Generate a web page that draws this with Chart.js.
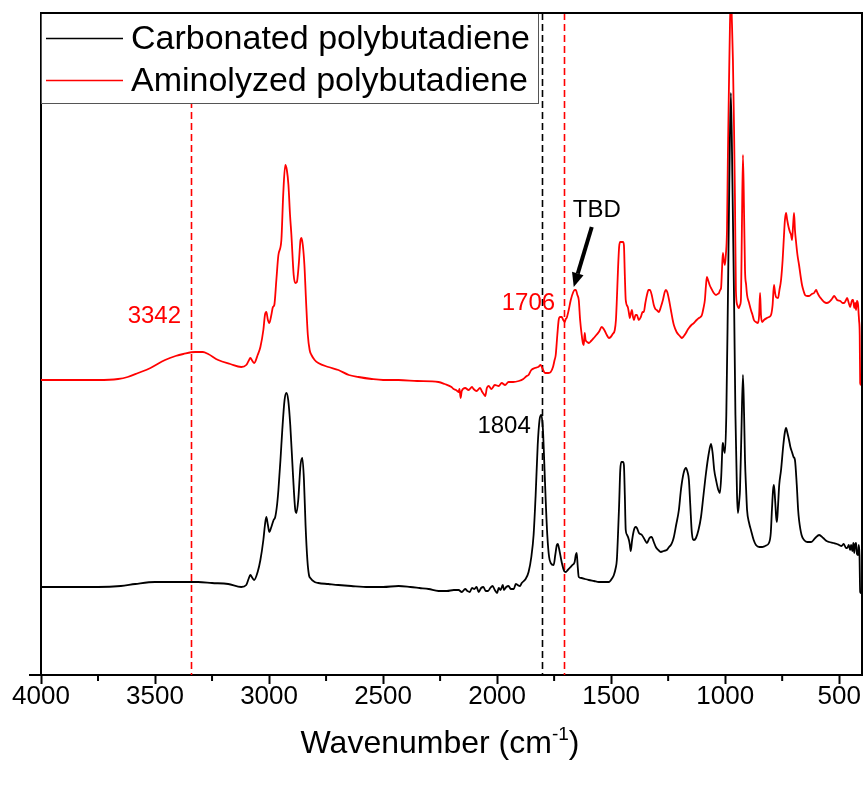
<!DOCTYPE html>
<html><head><meta charset="utf-8">
<script src="https://cdn.jsdelivr.net/npm/chart.js@4.4.0/dist/chart.umd.min.js"></script>
<style>html,body{margin:0;padding:0;background:#fff;}#wrap{width:866px;height:785px;}</style>
</head><body><div id="wrap"><canvas id="c" width="866" height="785"></canvas></div>
<script>
const seriesNames = ['Carbonated polybutadiene', 'Aminolyzed polybutadiene'];
const seriesColors = ['#000000', '#ff0000'];

const carbWavenumber = [4000,3900,3750,3650,3587,3500,3442,3380,3311,3250,3179,3122,3100,3090,3082,3073,3065,3050,3038,3025,3018,3012,3005,2999,2990,2980,2973,2965,2959,2950,2942,2932,2924,2916,2907,2895,2885,2880,2872,2862,2854,2847,2840,2832,2825,2819,2800,2784,2740,2696,2640,2564,2500,2432,2380,2340,2300,2257,2220,2190,2169,2155,2140,2130,2120,2110,2100,2090,2081,2070,2060,2050,2040,2030,2020,2010,2000,1993,1985,1975,1970,1960,1950,1940,1927,1918,1910,1900,1892,1875,1862,1850,1840,1831,1822,1814,1806,1799,1792,1787,1780,1772,1765,1752,1745,1738,1734,1728,1717,1706,1699,1690,1682,1670,1660,1655,1651,1647,1642,1630,1615,1598,1575,1554,1530,1510,1495,1488,1480,1475,1470,1465,1460,1455,1448,1444,1440,1436,1430,1422,1418,1414,1408,1400,1393,1387,1378,1365,1352,1343,1332,1322,1313,1304,1293,1282,1270,1256,1246,1238,1230,1225,1215,1203,1195,1190,1181,1172,1165,1159,1153,1146,1137,1128,1117,1106,1095,1084,1073,1062,1055,1048,1040,1030,1023,1017,1012,1010,1006,1001,995,988,982,975,968,961,955,948,944,938,935,929,922,917,913,908,904,895,887,875,865,850,838,825,808,800,795,790,786,781,776,773,768,763,755,745,738,733,727,720,714,707,700,694,686,680,676,665,654,640,623,605,588,570,555,544,525,510,500,490,480,470,465,458,452,448,442,438,434,430,426,422,417,414,411,408,404];
const carbAbsorbance = [88,88,88,89,91,93,93,93,93,92,91,88,90,96,100,97,95,103,115,135,150,158,150,143,148,155,158,170,185,215,245,275,282,275,250,200,165,162,175,210,217,195,150,115,100,97,93,92,91,90,89,88,88,89,88,87,86,84,84,85,85,83,86,84,83,87,86,88,83,87,88,84,84,87,89,85,82,87,85,90,85,88,89,86,86,91,90,89,92,96,103,118,140,180,230,255,260,245,205,175,140,118,112,110,120,130,131,126,113,104,103,105,107,110,113,120,122,110,98,97,96,95,94,93,93,93,97,100,107,115,140,170,205,213,213,210,180,145,140,135,130,124,135,145,148,147,142,140,135,132,137,138,133,128,125,123,124,125,128,130,134,138,150,165,183,192,203,207,203,195,170,142,135,137,145,158,180,202,220,231,222,205,195,185,182,200,228,232,226,222,260,375,490,582,490,375,260,180,162,175,185,240,300,260,215,185,165,152,145,135,130,128,128,129,132,142,165,185,190,175,157,153,170,190,205,230,243,247,242,235,228,223,218,215,190,165,155,140,135,133,133,137,140,137,134,133,132,131,130,129,131,127,127,130,125,130,124,132,122,131,132,121,120,130,120,83,82];

const aminoWavenumber = [4000,3900,3750,3662,3620,3574,3520,3456,3410,3376,3324,3290,3267,3223,3170,3122,3100,3090,3082,3073,3065,3050,3038,3025,3018,3012,3005,2999,2990,2983,2977,2968,2959,2946,2938,2929,2922,2915,2908,2902,2892,2885,2878,2870,2862,2858,2852,2845,2838,2830,2822,2814,2800,2784,2740,2696,2650,2608,2550,2500,2432,2350,2257,2230,2200,2191,2180,2169,2165,2160,2155,2140,2125,2110,2103,2090,2075,2065,2059,2052,2045,2037,2025,2010,1993,1980,1965,1950,1930,1905,1885,1870,1862,1850,1835,1820,1809,1800,1790,1775,1765,1755,1748,1743,1736,1730,1724,1717,1710,1704,1699,1695,1686,1677,1666,1660,1655,1648,1642,1636,1629,1624,1620,1616,1612,1605,1598,1588,1576,1565,1554,1541,1530,1519,1510,1502,1493,1484,1479,1475,1470,1465,1460,1448,1444,1440,1436,1427,1422,1418,1413,1409,1404,1400,1393,1387,1379,1370,1362,1357,1350,1343,1336,1330,1322,1313,1306,1300,1291,1282,1273,1265,1260,1254,1246,1238,1230,1225,1213,1203,1195,1190,1181,1172,1165,1159,1148,1137,1125,1115,1108,1102,1095,1089,1084,1080,1075,1068,1062,1050,1040,1033,1027,1022,1018,1014,1010,1006,1001,997,992,988,983,979,975,970,966,961,957,953,947,940,935,931,927,922,917,913,908,904,895,887,880,874,865,856,851,847,843,838,830,817,808,799,792,786,781,777,768,762,755,748,742,738,733,728,722,716,711,707,702,698,694,690,683,676,668,663,656,650,640,632,620,610,605,601,595,588,578,566,555,544,532,522,515,509,495,485,478,470,465,458,452,447,443,439,434,430,426,422,417,415,413,410,408,404];
const aminoAbsorbance = [295,295,295,296,298,302,307,315,319,321,323,323,321,315,311,308,310,314,317,314,312,320,328,345,360,363,355,352,360,368,370,395,420,435,480,510,505,490,460,440,400,392,393,410,435,437,430,410,375,340,325,320,315,312,308,305,300,298,296,295,295,294,293,291,288,286,285,283,286,277,284,287,285,288,286,284,287,283,281,279,287,289,286,290,289,292,290,293,293,294,296,299,300,305,307,308,310,306,302,302,303,308,315,320,340,355,358,358,355,353,356,357,365,375,383,385,385,380,375,355,340,332,330,342,335,333,332,334,337,340,343,348,345,340,337,338,341,345,355,375,405,428,433,433,430,400,375,368,362,357,362,365,358,355,360,360,355,358,363,363,372,380,385,385,380,370,366,365,363,368,375,383,385,383,375,365,355,350,343,340,338,337,339,342,345,347,350,352,355,357,358,360,367,375,390,398,395,390,387,382,380,381,382,385,387,405,422,415,410,420,445,520,595,650,680,650,615,545,475,385,370,367,370,375,440,520,460,405,390,380,372,365,360,355,353,352,360,382,360,353,355,357,358,360,370,390,382,378,377,385,395,415,440,455,462,455,448,443,440,435,450,462,445,435,420,410,397,390,384,380,379,379,381,382,384,385,382,379,376,373,372,373,376,379,377,375,374,372,372,375,377,372,368,372,375,375,367,372,365,374,370,362,355,340,292,290];

const xTickValues = [4000, 3500, 3000, 2500, 2000, 1500, 1000, 500];
const xMinorTickValues = [3750, 3250, 2750, 2250, 1750, 1250, 750];
const markerLines = [{x: 3342, color: '#ff0000'}, {x: 1804, color: '#000000'}, {x: 1706, color: '#ff0000'}];
const peakLabels = [
  {text: '3342', x: 3342, y: 359, color: '#ff0000', align: 'right', dx: -10},
  {text: '1706', x: 1706, y: 372, color: '#ff0000', align: 'right', dx: -9},
  {text: '1804', x: 1804, y: 249, color: '#000000', align: 'right', dx: -11},
  {text: 'TBD', x: 1664, y: 465, color: '#000000', align: 'left', dx: -1}
];
const arrowFrom = {x: 1585, y: 448};
const arrowTo = {x: 1664, y: 388};

const FONT = '"Liberation Sans", Arial, sans-serif';

function pts(xs, ys) { return xs.map((x, i) => ({x: x, y: ys[i]})); }

const decorPlugin = {
  id: 'decor',
  beforeDatasetsDraw(chart) {
    const {ctx, chartArea: a, scales: {x}} = chart;
    ctx.save();
    ctx.lineWidth = 1.6;
    ctx.setLineDash([7, 4]);
    markerLines.forEach(m => {
      const px = Math.round(x.getPixelForValue(m.x)) + 0.5;
      ctx.strokeStyle = m.color;
      ctx.beginPath(); ctx.moveTo(px, a.top); ctx.lineTo(px, a.bottom); ctx.stroke();
    });
    ctx.restore();
  },
  afterDatasetsDraw(chart) {
    const {ctx, chartArea: a, scales: {x, y}} = chart;
    ctx.save();
    // legend
    ctx.fillStyle = '#fff';
    ctx.fillRect(a.left, a.top, 498, 91);
    ctx.strokeStyle = '#555'; ctx.lineWidth = 1;
    ctx.strokeRect(a.left + 0.5, a.top + 0.5, 497, 90);
    const rows = [38, 80];
    chart.data.datasets.forEach((ds, i) => {
      ctx.strokeStyle = ds.borderColor; ctx.lineWidth = 1.6;
      ctx.beginPath(); ctx.moveTo(46, rows[i] + 0.5); ctx.lineTo(123, rows[i] + 0.5); ctx.stroke();
      ctx.fillStyle = '#000';
      ctx.font = '34px ' + FONT;
      ctx.textAlign = 'left'; ctx.textBaseline = 'middle';
      ctx.fillText(ds.label, 131, rows[i] + 2);
    });
    // peak labels
    ctx.font = '24px ' + FONT;
    ctx.textBaseline = 'middle';
    peakLabels.forEach(l => {
      ctx.fillStyle = l.color; ctx.textAlign = l.align;
      ctx.fillText(l.text, x.getPixelForValue(l.x) + l.dx, y.getPixelForValue(l.y));
    });
    // arrow
    const x0 = x.getPixelForValue(arrowFrom.x), y0 = y.getPixelForValue(arrowFrom.y);
    const x1 = x.getPixelForValue(arrowTo.x), y1 = y.getPixelForValue(arrowTo.y);
    const ang = Math.atan2(y1 - y0, x1 - x0);
    const hl = 14, hw = 6;
    const bx = x1 - hl * Math.cos(ang), by = y1 - hl * Math.sin(ang);
    ctx.strokeStyle = '#000'; ctx.fillStyle = '#000'; ctx.lineWidth = 4;
    ctx.beginPath(); ctx.moveTo(x0, y0); ctx.lineTo(bx, by); ctx.stroke();
    ctx.beginPath();
    ctx.moveTo(x1, y1);
    ctx.lineTo(bx + hw * Math.sin(ang), by - hw * Math.cos(ang));
    ctx.lineTo(bx - hw * Math.sin(ang), by + hw * Math.cos(ang));
    ctx.closePath(); ctx.fill();
    // frame top/right
    ctx.strokeStyle = '#000'; ctx.lineWidth = 2;
    ctx.beginPath(); ctx.moveTo(a.left, a.top); ctx.lineTo(a.right, a.top); ctx.lineTo(a.right, a.bottom); ctx.stroke();
    // y-axis bottom tick stub
    ctx.beginPath(); ctx.moveTo(a.left - 12, a.bottom); ctx.lineTo(a.left, a.bottom); ctx.stroke();
    // minor ticks
    ctx.lineWidth = 2;
    xMinorTickValues.forEach(v => {
      const px = x.getPixelForValue(v);
      ctx.beginPath(); ctx.moveTo(px, a.bottom); ctx.lineTo(px, a.bottom + 6); ctx.stroke();
    });
    // axis title with superscript
    ctx.fillStyle = '#000'; ctx.textBaseline = 'alphabetic'; ctx.textAlign = 'left';
    const big = '32px ' + FONT, small = '19px ' + FONT;
    const t1 = 'Wavenumber (cm', t2 = '-1', t3 = ')';
    ctx.font = big; const w1 = ctx.measureText(t1).width, w3 = ctx.measureText(t3).width;
    ctx.font = small; const w2 = ctx.measureText(t2).width;
    const total = w1 + w2 + w3;
    let sx = 440 - total / 2; const base = 753;
    ctx.font = big; ctx.fillText(t1, sx, base); sx += w1;
    ctx.font = small; ctx.fillText(t2, sx, base - 13); sx += w2;
    ctx.font = big; ctx.fillText(t3, sx, base);
    ctx.restore();
  }
};

new Chart(document.getElementById('c'), {
  type: 'line',
  data: {
    datasets: [
      {label: seriesNames[0], data: pts(carbWavenumber, carbAbsorbance), borderColor: seriesColors[0], borderWidth: 1.8, pointRadius: 0, tension: 0.3, cubicInterpolationMode: 'monotone', fill: false},
      {label: seriesNames[1], data: pts(aminoWavenumber, aminoAbsorbance), borderColor: seriesColors[1], borderWidth: 1.8, pointRadius: 0, tension: 0.3, cubicInterpolationMode: 'monotone', fill: false}
    ]
  },
  options: {
    responsive: false, animation: false, devicePixelRatio: 1,
    parsing: false,
    layout: {padding: {top: 13, right: 4, left: 0, bottom: 0}},
    plugins: {legend: {display: false}, tooltip: {enabled: false}},
    scales: {
      x: {
        type: 'linear', reverse: true, min: 400, max: 4000,
        afterBuildTicks: s => { s.ticks = xTickValues.map(v => ({value: v})); },
        afterFit: s => { s.height = 110; },
        grid: {drawOnChartArea: false, drawTicks: true, tickLength: 9, tickWidth: 2, tickColor: '#000'},
        border: {display: true, color: '#000', width: 2},
        ticks: {color: '#000', font: {size: 26, family: FONT}, padding: -3, maxRotation: 0, autoSkip: false,
                callback: v => String(v)}
      },
      y: {
        min: 0, max: 662,
        afterFit: s => { s.width = 41; },
        ticks: {display: false},
        grid: {display: false},
        border: {display: true, color: '#000', width: 2}
      }
    }
  },
  plugins: [decorPlugin]
});
</script></body></html>
